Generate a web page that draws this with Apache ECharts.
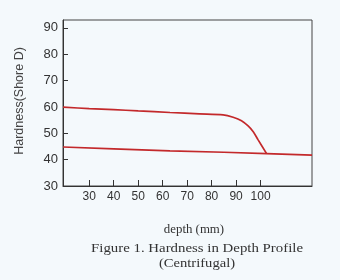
<!DOCTYPE html>
<html><head><meta charset="utf-8">
<script src="https://cdn.jsdelivr.net/npm/echarts@6/dist/echarts.min.js"></script>
<style>html,body{margin:0;padding:0;background:#f4f9fc;}#c{width:340px;height:280px;}</style>
</head><body><div id="c"></div>
<script>
const xTicks = [30, 40, 50, 60, 70, 80, 90, 100];
const yTicks = [30, 40, 50, 60, 70, 80, 90];
const upperDepth = [19.3, 30, 40, 50, 63, 75, 84.7, 88.8, 92.2, 94.9, 97.0, 99.0, 102.4];
const upperHardness = [59.9, 59.4, 59.0, 58.5, 57.9, 57.4, 57.0, 56.1, 54.8, 52.8, 50.6, 47.5, 42.4];
const lowerDepth = [19.3, 40, 63, 85, 102.4, 121];
const lowerHardness = [44.8, 44.1, 43.3, 42.8, 42.3, 41.7];
const xTitle = 'depth (mm)';
const yTitle = 'Hardness(Shore D)';
const caption1 = 'Figure 1. Hardness in Depth Profile';
const caption2 = '(Centrifugal)';

const zip = (a, b) => a.map((v, i) => [v, b[i]]);
const chart = echarts.init(document.getElementById('c'), null, {renderer: 'canvas'});
const lineColor = '#c3292b';
const axisCol = '#333';
chart.setOption({
  backgroundColor: '#f4f9fc',
  animation: false,
  grid: {left: 63, right: 28, top: 20, bottom: 94, show: true, borderColor: '#444', borderWidth: 1},
  xAxis: {
    type: 'value', min: 19.3, max: 121,
    axisLine: {show: true, lineStyle: {color: axisCol, width: 1}},
    axisTick: {show: true, inside: true, length: 6, customValues: xTicks, lineStyle: {color: axisCol}},
    axisLabel: {customValues: xTicks, color: '#333', fontSize: 12, fontFamily: 'Liberation Sans', margin: 5},
    splitLine: {show: false}
  },
  yAxis: {
    type: 'value', min: 30, max: 93,
    axisLine: {show: true, lineStyle: {color: axisCol, width: 1}},
    axisTick: {show: true, inside: true, length: 5, customValues: yTicks, lineStyle: {color: axisCol}},
    axisLabel: {customValues: yTicks, color: '#333', fontSize: 13, fontFamily: 'Liberation Sans', margin: 5},
    splitLine: {show: false}
  },
  series: [
    {type: 'line', data: zip(upperDepth, upperHardness), smooth: 0.3, symbol: 'none',
     lineStyle: {color: lineColor, width: 1.7}},
    {type: 'line', data: zip(lowerDepth, lowerHardness), smooth: false, symbol: 'none',
     lineStyle: {color: lineColor, width: 1.7}}
  ],
  graphic: [
    {type: 'text', x: 20, y: 101, rotation: Math.PI / 2,
     style: {text: yTitle, fill: '#444', font: '12.5px "Liberation Sans"', align: 'center', verticalAlign: 'middle'}},
    {type: 'text', x: 194, y: 230, scaleX: 1.07,
     style: {text: xTitle, fill: '#333', font: '12px "Liberation Serif"', align: 'center', verticalAlign: 'middle'}},
    {type: 'text', x: 197, y: 248, scaleX: 1.1,
     style: {text: caption1, fill: '#333', font: '13.5px "Liberation Serif"', align: 'center', verticalAlign: 'middle'}},
    {type: 'text', x: 197, y: 263, scaleX: 1.08,
     style: {text: caption2, fill: '#333', font: '13.5px "Liberation Serif"', align: 'center', verticalAlign: 'middle'}}
  ]
});
</script></body></html>
